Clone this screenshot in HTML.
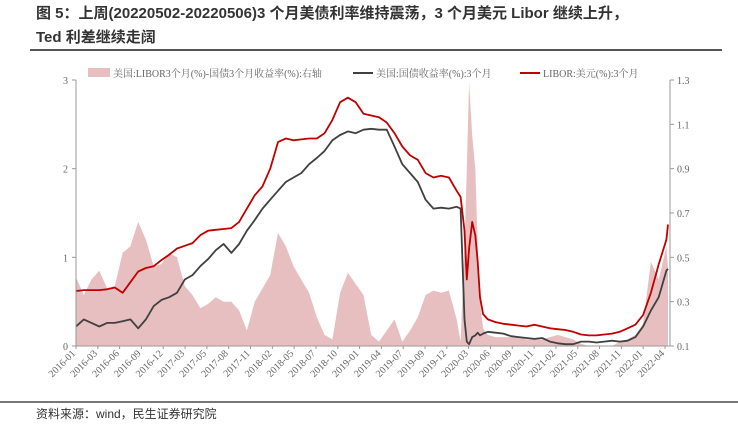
<!DOCTYPE html>
<html><head><meta charset="utf-8">
<style>
html,body{margin:0;padding:0;background:#fff;width:738px;height:431px;overflow:hidden}
.t{position:absolute;left:36px;font-family:"Liberation Sans","Noto Sans CJK SC",sans-serif;font-weight:bold;font-size:15px;color:#333;white-space:nowrap}
</style></head><body>
<div class="t" style="top:2px">图 5：上周(20220502-20220506)3 个月美债利率维持震荡，3 个月美元 Libor 继续上升，</div>
<div class="t" style="top:26px">Ted 利差继续走阔</div>
<div style="position:absolute;left:30px;top:49px;width:692px;height:2px;background:#555"></div>
<div style="position:absolute;left:0;top:401px;width:738px;height:2px;background:#777"></div>
<div style="position:absolute;left:36px;top:405px;font-family:'Liberation Sans','Noto Sans CJK SC',sans-serif;font-size:12px;color:#333">资料来源：wind，民生证券研究院</div>
<svg id="chart" width="738" height="431" style="position:absolute;left:0;top:0" font-family="'Liberation Serif','Noto Serif CJK SC',serif">
<g font-size="10" fill="#666">
<rect x="88" y="68" width="22" height="9" fill="#e8bfc0"/>
<text x="113" y="77">美国:LIBOR3个月(%)-国债3个月收益率(%):右轴</text>
<line x1="353" y1="73" x2="373" y2="73" stroke="#404040" stroke-width="2"/>
<text x="376" y="77">美国:国债收益率(%):3个月</text>
<line x1="520" y1="73" x2="540" y2="73" stroke="#c00000" stroke-width="2"/>
<text x="543" y="77">LIBOR:美元(%):3个月</text>
</g>
</svg>
<script>
const months=[0,1,2,3,4,5,6,7,8,9,10,11,12,13,14,15,16,17,18,19,20,21,22,23,24,25,26,27,28,29,30,31,32,33,34,35,36,37,38,39,40,41,42,43,44,45,46,47,48,49,49.5,50,50.3,50.6,51,51.4,51.7,52,52.4,53,54,55,56,57,58,59,60,61,62,63,64,65,66,67,68,69,70,71,72,73,74,75,76,76.2];
const treasury=[0.22,0.30,0.26,0.22,0.26,0.26,0.28,0.30,0.20,0.30,0.45,0.52,0.55,0.60,0.75,0.80,0.90,0.98,1.08,1.15,1.05,1.15,1.30,1.42,1.55,1.65,1.75,1.85,1.90,1.95,2.05,2.12,2.20,2.32,2.38,2.42,2.40,2.44,2.45,2.44,2.44,2.25,2.05,1.95,1.85,1.65,1.55,1.56,1.55,1.57,1.55,0.30,0.05,0.02,0.10,0.12,0.15,0.12,0.14,0.16,0.15,0.14,0.11,0.10,0.09,0.08,0.09,0.05,0.03,0.02,0.02,0.05,0.05,0.04,0.05,0.06,0.05,0.06,0.10,0.22,0.40,0.55,0.85,0.87];
const libor=[0.62,0.63,0.63,0.63,0.64,0.66,0.60,0.72,0.84,0.88,0.90,0.97,1.03,1.10,1.13,1.16,1.25,1.30,1.31,1.32,1.33,1.40,1.55,1.70,1.80,2.00,2.30,2.34,2.32,2.33,2.34,2.34,2.40,2.55,2.75,2.80,2.75,2.62,2.60,2.58,2.52,2.40,2.25,2.15,2.10,1.95,1.90,1.92,1.90,1.75,1.68,1.30,0.75,1.10,1.40,1.25,0.95,0.55,0.36,0.30,0.27,0.25,0.24,0.23,0.22,0.24,0.22,0.20,0.19,0.18,0.16,0.13,0.12,0.12,0.13,0.14,0.16,0.20,0.24,0.35,0.60,0.92,1.20,1.37];
const spread=[0.41,0.33,0.40,0.44,0.36,0.37,0.52,0.55,0.66,0.58,0.46,0.47,0.52,0.50,0.37,0.33,0.27,0.29,0.32,0.30,0.30,0.26,0.17,0.30,0.36,0.42,0.61,0.55,0.46,0.40,0.34,0.23,0.15,0.13,0.34,0.43,0.38,0.33,0.15,0.12,0.17,0.22,0.12,0.17,0.23,0.33,0.35,0.34,0.35,0.22,0.12,0.55,0.90,1.29,1.05,0.90,0.55,0.30,0.18,0.15,0.14,0.14,0.14,0.14,0.13,0.13,0.13,0.14,0.15,0.14,0.13,0.11,0.10,0.10,0.10,0.10,0.12,0.13,0.15,0.20,0.48,0.40,0.55,0.45];
const leftTicks=[0,1,2,3];
const rightTicks=[0.1,0.3,0.5,0.7,0.9,1.1,1.3];
const xLabels=["2016-01","2016-03","2016-06","2016-09","2016-12","2017-03","2017-05","2017-08","2017-11","2018-02","2018-05","2018-07","2018-10","2019-01","2019-04","2019-07","2019-09","2019-12","2020-03","2020-06","2020-09","2020-11","2021-02","2021-05","2021-08","2021-11","2022-01","2022-04"].filter((d,i)=>true);
const X0=76,X1=670,Y0=346,Y1=80;
const xs=m=>X0+m*(668-X0)/76.2;
const yl=v=>Y0-(v/3)*(Y0-Y1);
const yr=v=>Y0-((v-0.1)/1.2)*(Y0-Y1);
const svg=document.getElementById('chart');
const NS='http://www.w3.org/2000/svg';
function mk(tag,attrs){const e=document.createElementNS(NS,tag);for(const k in attrs)e.setAttribute(k,attrs[k]);svg.appendChild(e);return e;}
// spread area
let d='M'+xs(months[0])+','+Y0;
months.forEach((m,i)=>{d+=' L'+xs(m).toFixed(1)+','+yr(spread[i]).toFixed(1);});
d+=' L'+xs(months[months.length-1])+','+Y0+' Z';
const area=mk('path',{d:d,fill:'#e8bfc0'});


function line(arr,color,name){
  let p='';months.forEach((m,i)=>{p+=(i?' L':'M')+xs(m).toFixed(1)+','+yl(arr[i]).toFixed(1);});
  const e=mk('path',{d:p,fill:'none',stroke:color,'stroke-width':1.8,'stroke-linejoin':'round'});
  
  
}
line(treasury,'#404040','treasury-line');
line(libor,'#c00000','libor-line');
// axes
const axL=mk('line',{x1:X0,y1:Y1,x2:X0,y2:Y0,stroke:'#999'});


const axR=mk('line',{x1:X1,y1:Y1,x2:X1,y2:Y0,stroke:'#999'});


const axB=mk('line',{x1:X0,y1:Y0,x2:X1,y2:Y0,stroke:'#999'});


leftTicks.forEach(v=>{
  mk('line',{x1:X0-4,y1:yl(v),x2:X0,y2:yl(v),stroke:'#999'});
  const t=mk('text',{x:X0-8,y:yl(v)+4,'text-anchor':'end','font-size':10,fill:'#666'});
  t.textContent=v;
  
  
});
rightTicks.forEach(v=>{
  mk('line',{x1:X1,y1:yr(v),x2:X1+4,y2:yr(v),stroke:'#999'});
  const t=mk('text',{x:X1+7,y:yr(v)+4,'font-size':10,fill:'#666'});
  t.textContent=v.toFixed(1);
  
  
});
const n=xLabels.length, step=(665-X0)/(n-1);
xLabels.forEach((lab,i)=>{
  const x=X0+i*step;
  mk('line',{x1:x,y1:Y0,x2:x,y2:Y0+3,stroke:'#999'});
  const t=mk('text',{x:x,y:Y0+8,'text-anchor':'end','font-size':10,fill:'#666',transform:'rotate(-45 '+x+' '+(Y0+8)+')'});
  t.textContent=lab;
  
  
});
</script>
</body></html>
